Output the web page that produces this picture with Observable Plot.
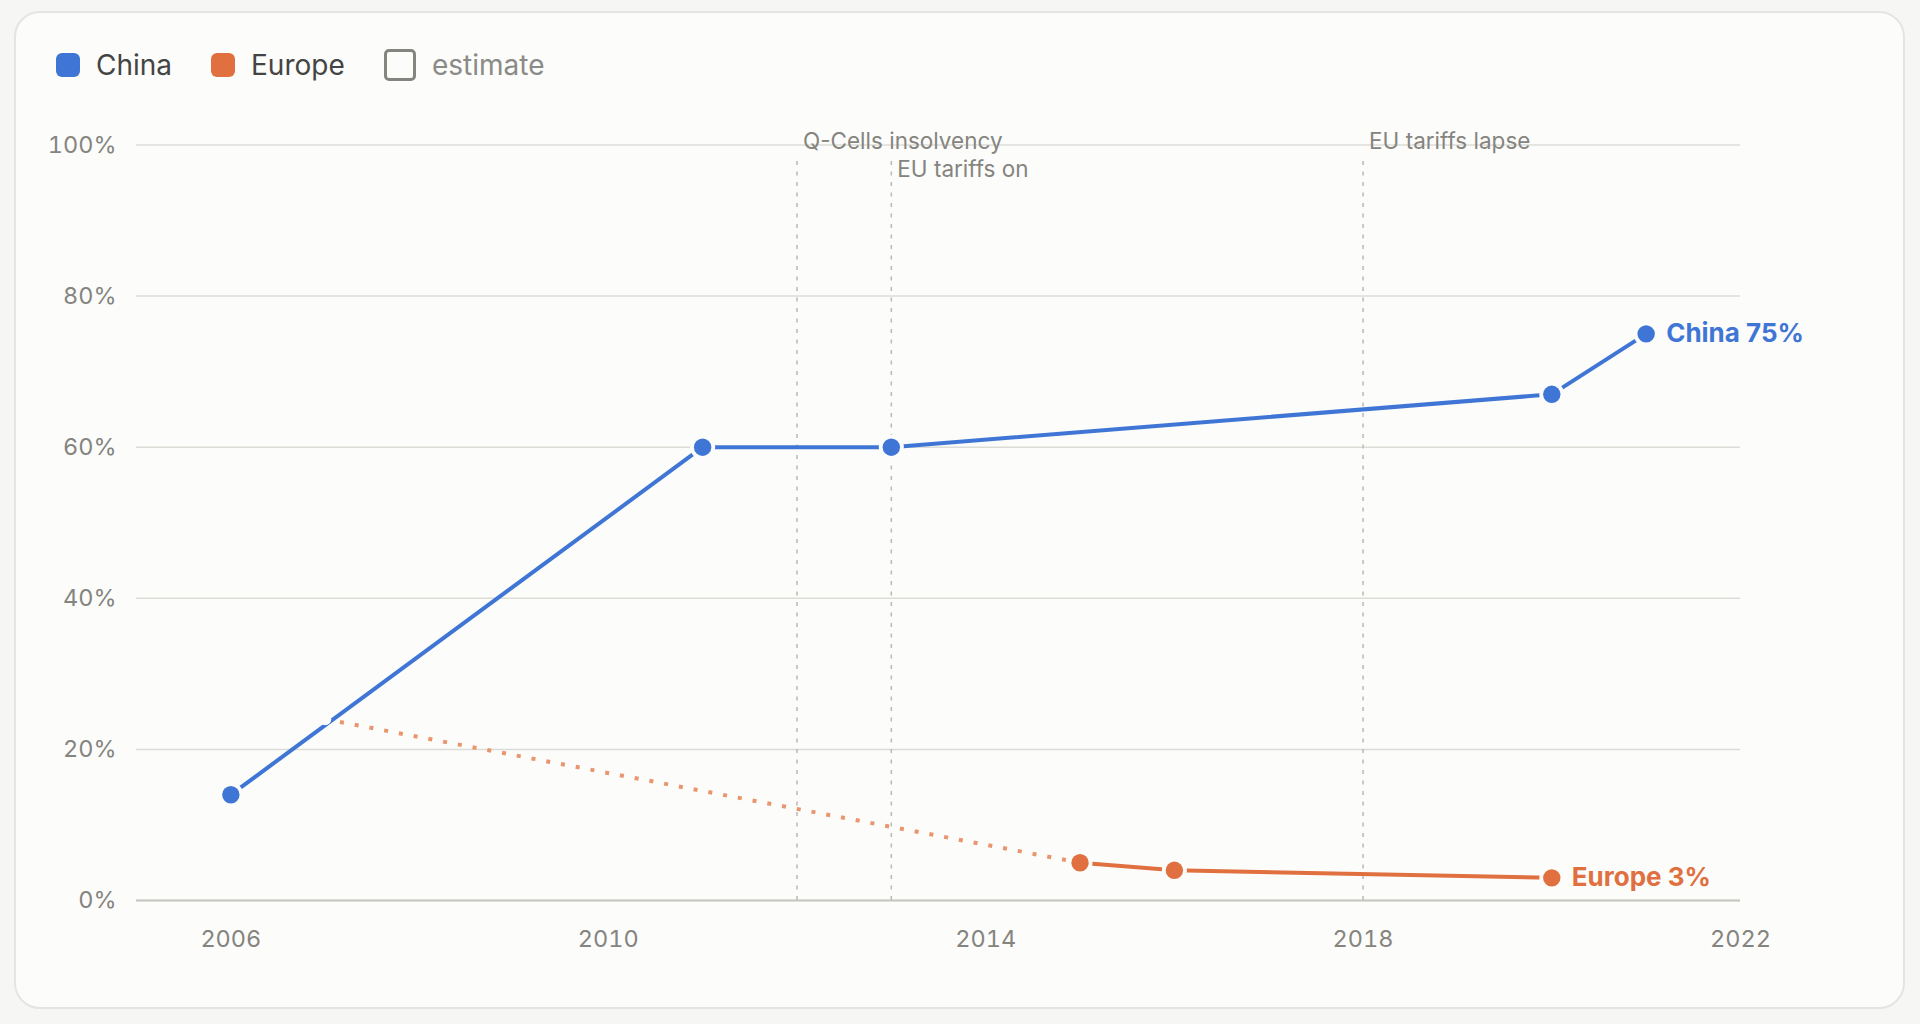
<!DOCTYPE html>
<html><head><meta charset="utf-8">
<script src="https://cdn.jsdelivr.net/npm/d3@7"></script>
<script src="https://cdn.jsdelivr.net/npm/@observablehq/plot@0.6"></script>
<style>
html,body{margin:0;padding:0;background:#f6f6f4;width:1920px;height:1024px;overflow:hidden;font-family:Inter,"Noto Sans",sans-serif}
#card{position:absolute;left:14px;top:11px;width:1887px;height:994px;background:#fcfcfb;border:2px solid #e4e4e1;border-radius:26px}
.lg{position:absolute;display:flex;align-items:center;height:32px;top:49px;font-size:28px;color:#444}
.sw{width:24px;height:24px;border-radius:6px;margin-right:16px}
.hol{width:26px;height:26px;border:3px solid #858580;border-radius:5px;margin-right:16px}
#chart{position:absolute;left:0;top:0}
</style></head>
<body>
<div id="card"></div>
<div id="legend"></div>
<div id="chart"></div>
<script>
const years = [2006, 2011, 2013, 2020, 2021];
const chinaShare = [14, 60, 60, 67, 75];
const europeEstYears = [2007, 2015];
const europeEstShare = [24, 5];
const europeYears = [2015, 2016, 2020];
const europeShare = [5, 4, 3];
const eventYears = [2012, 2013, 2018];
const eventLabels = ["Q-Cells insolvency", "EU tariffs on", "EU tariffs lapse"];
const eventLabelY = [100, 96.3, 100];
const xTicks = [2006, 2010, 2014, 2018, 2022];
const yTicks = [0, 20, 40, 60, 80, 100];
const legendNames = ["China", "Europe", "estimate"];

const blue = "#3f76d5", orange = "#e0703f", orangeLight = "#e9956d";
const bg = "#fcfcfb";

const china = years.map((y, i) => ({year: y, v: chinaShare[i]}));
const europe = europeYears.map((y, i) => ({year: y, v: europeShare[i]}));
const europeEst = europeEstYears.map((y, i) => ({year: y, v: europeEstShare[i]}));
const events = eventYears.map((y, i) => ({year: y, label: eventLabels[i], ly: eventLabelY[i]}));

// legend
const lg = document.getElementById("legend");
const lgPos = [56, 211, 384];
const lgColors = [blue, orange, null];
legendNames.forEach((n, i) => {
  const d = document.createElement("div");
  d.className = "lg";
  d.style.left = lgPos[i] + "px";
  const s = document.createElement("div");
  if (lgColors[i]) { s.className = "sw"; s.style.background = lgColors[i]; }
  else { s.className = "hol"; d.style.color = "#8a8a86"; }
  d.appendChild(s);
  const t = document.createElement("span");
  t.textContent = n;
  d.appendChild(t);
  lg.appendChild(d);
});

const chart = Plot.plot({
  width: 1920,
  height: 1024,
  marginLeft: 136,
  marginRight: 180,
  marginTop: 144.5,
  marginBottom: 124,
  style: {background: "transparent", fontFamily: "Inter, 'Noto Sans', sans-serif", overflow: "visible"},
  x: {domain: [2005, 2022]},
  y: {domain: [0, 100]},
  marks: [
    Plot.gridY(yTicks, {stroke: "#dcdcd7", strokeOpacity: 1, strokeWidth: 1.5}),
    Plot.ruleY([0], {stroke: "#c6c6c1", strokeWidth: 2}),
    Plot.axisY(yTicks, {tickSize: 0, tickPadding: 20, tickFormat: d => d + "%", fontSize: 23.5, fill: "#85847f", label: null}),
    Plot.axisX(xTicks, {tickSize: 0, tickPadding: 30, tickFormat: d => String(d), fontSize: 23.5, fill: "#85847f", label: null}),
    Plot.ruleX(events, {x: "year", y1: 0, y2: 98.2, stroke: "#b9b9b5", strokeWidth: 1.5, strokeDasharray: "4,6.5"}),
    Plot.text(events, {x: "year", y: "ly", text: "label", textAnchor: "start", dx: 6, dy: -3, fontSize: 22.5, fill: "#85847f"}),
    Plot.line(europeEst, {x: "year", y: "v", stroke: orangeLight, strokeWidth: 4, strokeDasharray: "4,11", strokeLinecap: "butt"}),
    Plot.line(china, {x: "year", y: "v", stroke: blue, strokeWidth: 4}),
    Plot.line(europe, {x: "year", y: "v", stroke: orange, strokeWidth: 4}),
    Plot.dot(europeEst.slice(0, 1), {x: "year", y: "v", r: 6, fill: bg}),
    Plot.dot(china, {x: "year", y: "v", r: 12.5, fill: bg}),
    Plot.dot(europe, {x: "year", y: "v", r: 12.5, fill: bg}),
    Plot.dot(china, {x: "year", y: "v", r: 8.7, fill: blue}),
    Plot.dot(europe, {x: "year", y: "v", r: 8.7, fill: orange}),
    Plot.text(china.slice(-1), {x: "year", y: "v", text: d => "China " + d.v + "%", textAnchor: "start", dx: 20, fontSize: 26, fontWeight: "bold", fill: blue}),
    Plot.text(europe.slice(-1), {x: "year", y: "v", text: d => "Europe " + d.v + "%", textAnchor: "start", dx: 20, fontSize: 26, fontWeight: "bold", fill: orange})
  ]
});
document.getElementById("chart").appendChild(chart);
</script>
</body></html>
